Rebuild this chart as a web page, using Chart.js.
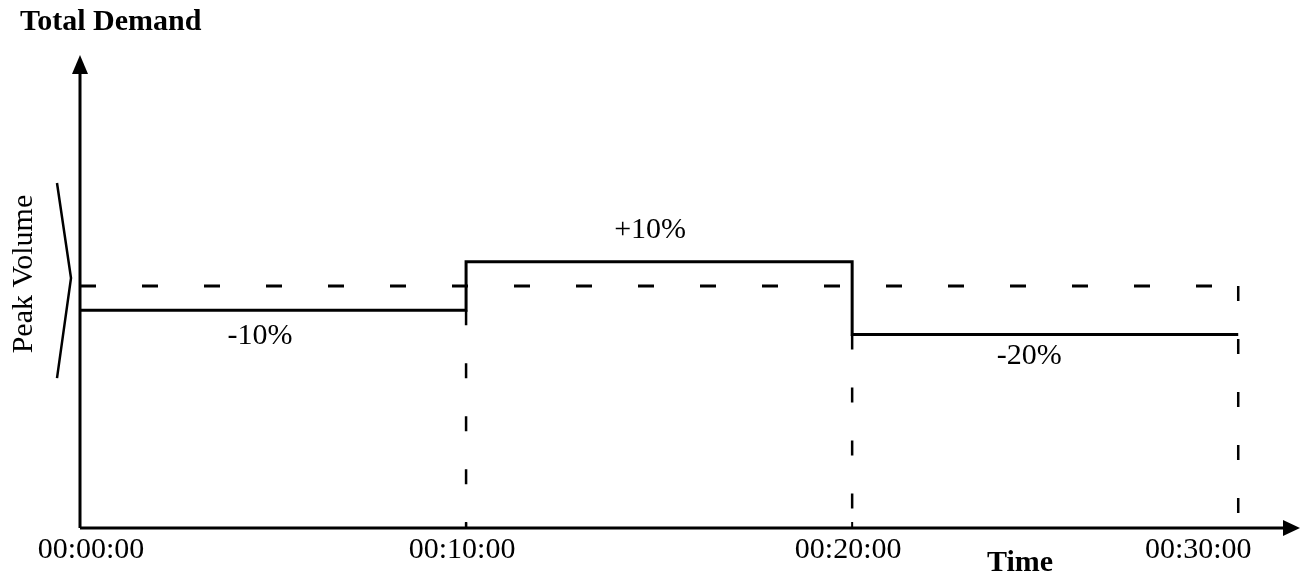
<!DOCTYPE html>
<html>
<head>
<meta charset="utf-8">
<script src="https://cdn.jsdelivr.net/npm/chart.js@4"></script>
<style>
  html, body { margin: 0; padding: 0; background: #fff; }
  #wrap { width: 1312px; height: 580px; }
</style>
</head>
<body>
<div id="wrap"><canvas id="demandChart" width="1312" height="580"></canvas></div>
<script>
// time steps in minutes and their tick labels
const timeMin = [0, 10, 20, 30];
const timeLabels = ["00:00:00", "00:10:00", "00:20:00", "00:30:00"];
// demand in each 10-minute interval, % of peak volume
const intervalDemand = [90, 110, 80];
const changeLabels = ["-10%", "+10%", "-20%"];
const peakVolume = 100;

const serif = "'Liberation Serif', 'Times New Roman', serif";

// step line: flat segment per interval
let stepPoints = [];
intervalDemand.forEach((v, i) => {
    stepPoints.push({ x: timeMin[i], y: v });
    stepPoints.push({ x: timeMin[i + 1], y: v });
});

// dashed guides dropping from each step to the time axis
let guidePoints = [];
for (let i = 1; i < timeMin.length; i++) {
    let start = i < intervalDemand.length ? Math.min(intervalDemand[i - 1], intervalDemand[i]) : peakVolume;
    guidePoints.push({ x: timeMin[i], y: start });
    guidePoints.push({ x: timeMin[i], y: 0 });
    guidePoints.push({ x: timeMin[i], y: null });
}

const peakPoints = [{ x: timeMin[0], y: peakVolume }, { x: timeMin[timeMin.length - 1], y: peakVolume }];

const annotations = {
    id: "annotations",
    afterDatasetsDraw(chart) {
        const ctx = chart.ctx;
        const area = chart.chartArea;
        const xs = chart.scales.x;
        const ys = chart.scales.y;
        const x0 = xs.getPixelForValue(0);
        const y0 = ys.getPixelForValue(0);
        ctx.save();
        ctx.strokeStyle = "#000";
        ctx.fillStyle = "#000";
        ctx.lineWidth = 3;
        ctx.setLineDash([]);

        // axes
        ctx.beginPath();
        ctx.moveTo(x0, y0);
        ctx.lineTo(x0, area.top + 14);
        ctx.moveTo(x0, y0);
        ctx.lineTo(area.right - 12, y0);
        ctx.stroke();
        // arrow heads
        ctx.beginPath();
        ctx.moveTo(x0, area.top);
        ctx.lineTo(x0 - 8, area.top + 19);
        ctx.lineTo(x0 + 8, area.top + 19);
        ctx.closePath();
        ctx.fill();
        ctx.beginPath();
        ctx.moveTo(area.right, y0);
        ctx.lineTo(area.right - 17, y0 - 8);
        ctx.lineTo(area.right - 17, y0 + 8);
        ctx.closePath();
        ctx.fill();

        // small ticks on time axis
        ctx.lineWidth = 2;
        timeMin.slice(1, 3).forEach(t => {
            let px = xs.getPixelForValue(t);
            ctx.beginPath();
            ctx.moveTo(px, y0);
            ctx.lineTo(px, y0 - 6);
            ctx.stroke();
        });

        // time tick labels
        const labelShift = [11, -4, -4, -40];
        ctx.font = "30px " + serif;
        ctx.textAlign = "center";
        ctx.textBaseline = "middle";
        timeLabels.forEach((lbl, i) => {
            ctx.fillText(lbl, xs.getPixelForValue(timeMin[i]) + labelShift[i], y0 + 22);
        });

        // change labels per interval
        const changeShift = [[-13, 26], [-9, -32], [-16, 22]];
        intervalDemand.forEach((v, i) => {
            let mid = (timeMin[i] + timeMin[i + 1]) / 2;
            ctx.fillText(changeLabels[i], xs.getPixelForValue(mid) + changeShift[i][0],
                ys.getPixelForValue(v) + changeShift[i][1]);
        });

        // axis titles
        ctx.font = "bold 30px " + serif;
        ctx.textAlign = "left";
        ctx.fillText("Total Demand", 20, 22);
        ctx.textAlign = "center";
        ctx.fillText("Time", 1020, 563);

        // peak volume label with bracket
        const peakY = ys.getPixelForValue(peakVolume);
        ctx.save();
        ctx.translate(24, peakY - 12);
        ctx.rotate(-Math.PI / 2);
        ctx.font = "30px " + serif;
        ctx.fillText("Peak Volume", 0, 0);
        ctx.restore();
        ctx.lineWidth = 2.5;
        ctx.beginPath();
        ctx.moveTo(57, peakY - 103);
        ctx.lineTo(71, peakY - 8);
        ctx.lineTo(57, peakY + 92);
        ctx.stroke();

        ctx.restore();
    }
};

new Chart(document.getElementById("demandChart"), {
    type: "line",
    data: {
        datasets: [
            {
                label: "Demand",
                data: stepPoints,
                borderColor: "#000",
                borderWidth: 3,
                pointRadius: 0,
                tension: 0,
                fill: false
            },
            {
                label: "Peak Volume",
                data: peakPoints,
                borderColor: "#000",
                borderWidth: 3,
                borderDash: [16, 46],
                pointRadius: 0,
                fill: false
            },
            {
                label: "Guides",
                data: guidePoints,
                borderColor: "#000",
                borderWidth: 2.5,
                borderDash: [15, 38],
                pointRadius: 0,
                spanGaps: false,
                fill: false
            }
        ]
    },
    options: {
        responsive: false,
        animation: false,
        layout: { padding: { left: 80, right: 12, top: 55, bottom: 52 } },
        plugins: { legend: { display: false }, tooltip: { enabled: false } },
        scales: {
            x: { type: "linear", min: 0, max: 31.6, display: false },
            y: { min: 0, max: 195.5, display: false }
        },
        elements: { line: { borderCapStyle: "butt" } }
    },
    plugins: [annotations]
});
</script>
</body>
</html>
